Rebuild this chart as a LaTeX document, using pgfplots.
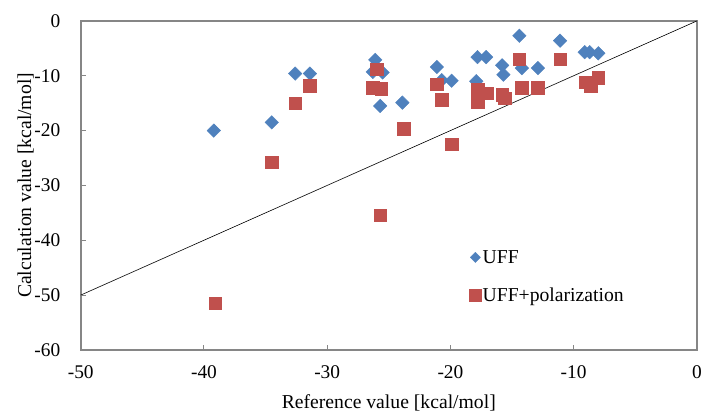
\documentclass[border=0pt]{standalone}
\usepackage{fontspec}
\setmainfont{Liberation Serif}
\usepackage{pgfplots}
\pgfplotsset{compat=1.18}
\definecolor{uffblue}{HTML}{4F81BD}
\definecolor{polred}{HTML}{C0504D}
\definecolor{axgray}{HTML}{868686}

\begin{document}
\begin{tikzpicture}
  \begin{axis}[
    scale only axis,
    width=618bp, height=330bp,
    xmin=-50, xmax=0, ymin=-60, ymax=0,
    xtick={-50,-40,...,0},
    ytick={-60,-50,...,0},
    axis line style={axgray, line width=1.6bp},
    tick style={axgray, line width=1bp},
    major tick length=5bp,
    tick align=inside,
    xtick pos=bottom, ytick pos=left,
    /pgf/number format/assume math mode=true,
    ticklabel style={font=\fontsize{19.5}{21}\selectfont},
    xticklabel style={yshift=-12bp},
    yticklabel style={xshift=-17bp},
    label style={font=\fontsize{19.8}{21}\selectfont},
    xlabel={Reference value [kcal/mol]},
    ylabel={Calculation value [kcal/mol]},
    xlabel style={yshift=-9bp},
    ylabel style={yshift=-6bp},
    legend style={draw=none, fill=none, font=\fontsize{19.8}{21}\selectfont,
      at={(axis cs:-18.5,-41.6)}, anchor=north west,
      row sep=21bp, inner sep=0pt,
      nodes={inner sep=1bp}},
    legend cell align=left,
  ]
    % UFF
    \addplot [only marks, mark=square*, mark size=4.8bp,
      mark options={rotate=45, fill=uffblue, draw=uffblue},
      legend image post style={mark size=3.6bp}] coordinates {
      (-39.2,-20.0) (-34.5,-18.5) (-32.6,-9.6) (-31.4,-9.6)
      (-26.1,-7.1) (-26.3,-9.3) (-25.5,-9.4) (-25.7,-15.5)
      (-23.9,-14.9) (-21.1,-8.4) (-20.7,-10.8) (-19.9,-10.9)
      (-17.8,-6.6) (-17.1,-6.6) (-17.9,-11.0) (-15.8,-8.1)
      (-15.7,-9.8) (-14.4,-2.7) (-14.2,-8.6) (-12.9,-8.6)
      (-11.1,-3.6) (-9.1,-5.7) (-8.7,-5.7) (-8.0,-5.9)
    };
    % UFF+polarization
    \addplot [only marks, mark=square*, mark size=6.3bp,
      mark options={fill=polred, draw=polred}] coordinates {
      (-39.1,-51.5) (-34.5,-25.8) (-32.6,-15.0) (-31.4,-11.8)
      (-26.0,-8.8) (-26.3,-12.2) (-25.6,-12.4) (-25.7,-35.4)
      (-23.8,-19.7) (-21.1,-11.5) (-20.7,-14.4) (-19.9,-22.5)
      (-17.8,-12.5) (-17.8,-14.8) (-17.0,-13.2) (-15.8,-13.5)
      (-15.6,-14.1) (-14.4,-7.0) (-14.2,-12.2) (-12.9,-12.2)
      (-11.1,-7.0) (-9.0,-11.2) (-8.6,-11.9) (-8.0,-10.4)
    };
    % y = x reference line
    \addplot [black, line width=0.6bp, forget plot] coordinates {(-50,-50) (0,0)};
    \legend{UFF, UFF+polarization}
  \end{axis}
  \path (current axis.south west) ++(-81bp,-59bp) rectangle ([shift={(6bp,21bp)}]current axis.north east);
\end{tikzpicture}
\end{document}
